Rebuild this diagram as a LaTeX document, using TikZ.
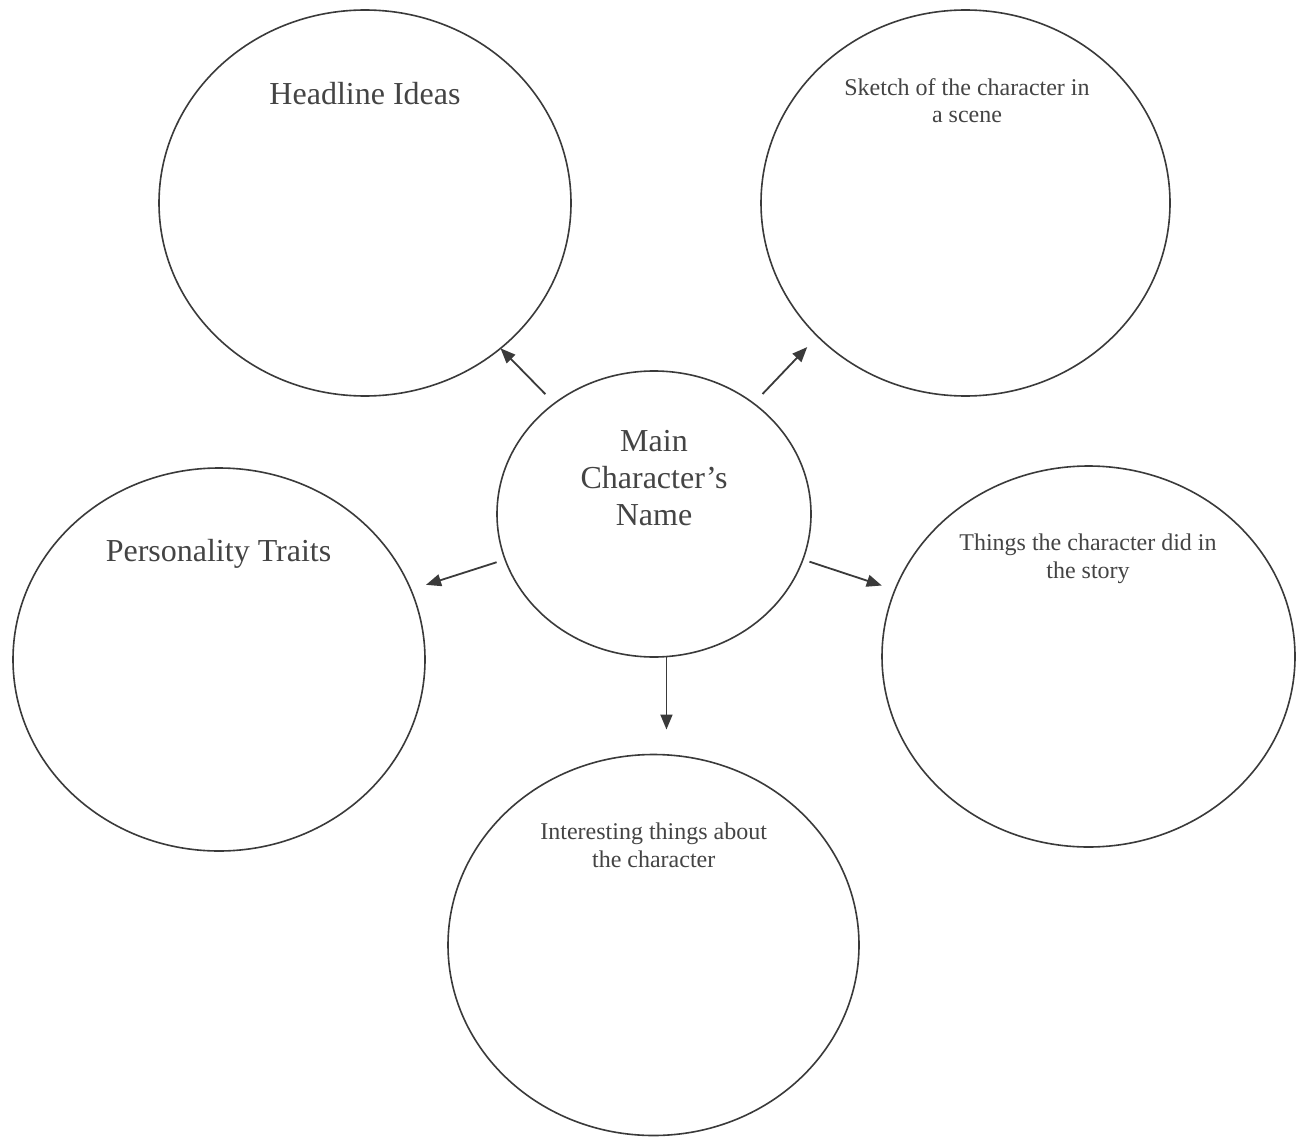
\documentclass[tikz,border=0pt]{standalone}
\usepackage{fontspec}
\setmainfont{Liberation Serif}
\usetikzlibrary{shapes.geometric,arrows.meta}
\definecolor{ln}{HTML}{3A3A3A}
\definecolor{tx}{HTML}{444444}
\begin{document}
\begin{tikzpicture}[x=1pt,y=-1pt,
 bubble/.style={draw=ln, line width=1.6pt, ellipse, inner sep=0pt, outer sep=0pt},
 bigtext/.style={text=tx, font=\fontsize{32}{37}\selectfont, inner sep=0pt, align=center, anchor=base},
 smalltext/.style={text=tx, font=\fontsize{24}{27.5}\selectfont, inner sep=0pt, align=center, anchor=base},
 arr/.style={draw=ln, line width=1.8pt, -{Triangle[length=15pt,width=12pt]}}]
\useasboundingbox[fill=white] (0,0) rectangle (1296,1137);
\node[bubble, minimum width=412pt, minimum height=386pt] (head) at (365,203) {};
\node[bubble, minimum width=409pt, minimum height=386pt] (sketch) at (965.5,203) {};
\node[bubble, minimum width=314pt, minimum height=286pt] (main) at (654,514) {};
\node[bubble, minimum width=412pt, minimum height=383pt] (pers) at (219,659.5) {};
\node[bubble, minimum width=413pt, minimum height=381pt] (things) at (1088.5,656.5) {};
\node[bubble, minimum width=411pt, minimum height=381pt] (interest) at (653.5,945) {};

\node[bigtext] (headT) at (365,105) {Headline Ideas};
\node[smalltext] (sketchT) at (967,123) {Sketch of the character in\\a scene};
\node[bigtext] (mainT) at (654,525) {Main\\Character’s\\Name};
\node[bigtext] (persT) at (218.5,561) {Personality Traits};
\node[smalltext] (thingsT) at (1088,578) {Things the character did in\\the story};
\node[smalltext] (interestT) at (653.7,867) {Interesting things about\\the character};

\draw[arr, shorten <=13pt] (main.132) -- (head.313);
\draw[arr, shorten <=13pt, shorten >=15pt] (main.48) -- (sketch.222);
\draw[arr, shorten <=9pt, shorten >=16pt] (main.197) -- (pers.20);
\draw[arr, shorten <=7pt, shorten >=14pt] (main.343) -- (things.161);
\draw[arr, shorten >=25pt] (main.275) -- (main.275 |- interest.north);
\end{tikzpicture}
\end{document}
